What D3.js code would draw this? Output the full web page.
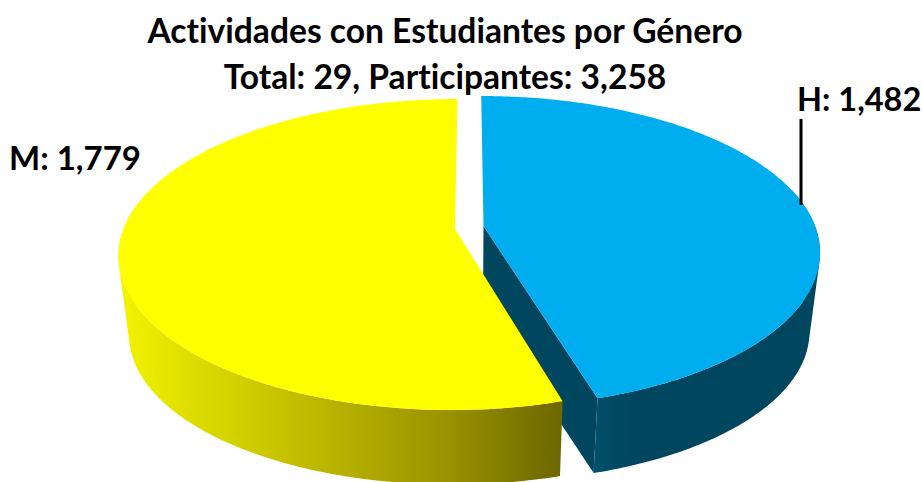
<!DOCTYPE html>
<html><head><meta charset="utf-8">
<script src="https://cdnjs.cloudflare.com/ajax/libs/d3/7.8.5/d3.min.js"></script>
<style>html,body{margin:0;background:#fff}svg{display:block}text{font-family:Lato,"Open Sans",sans-serif;font-weight:700;fill:#000;font-variant-ligatures:none}</style>
</head><body><div id="c"></div>
<script>
const categories = ["H", "M"];
const values = [1482, 1779];
const titleLines = ["Actividades con Estudiantes por Género", "Total: 29, Participantes: 3,258"];
const sliceColors = ["#00AEEF", "#FFFF00"];
const wallColor = "#00465F";

const W = 922, H = 482;
const svg = d3.select("#c").append("svg").attr("width", W).attr("height", H);

const radiusX = 331.5, radiusY = 151.3, persp = 0.164;
const depth = 80, floorScale = 0.97;
const apex = [{x: 483.5, y: 226, off: 16}, {x: 455, y: 229, off: -18}];

const pie = d3.pie().sort(null).value(d => d)(values);

function project(a, angle, t, r = 1) {
  const u = Math.sin(angle) * r, v = -Math.cos(angle) * r;
  const w = 1 - persp * v;
  const s = 1 - (1 - floorScale) * t;
  return [a.x - a.off + s * (radiusX * u + a.off) / w, a.y + depth * t + s * radiusY * v / w];
}
const angles = (a0, a1) => d3.range(0, 241).map(i => d3.interpolateNumber(a0, a1)(i / 240));
const line = d3.line();

const defs = svg.append("defs");
const gBlue = defs.append("linearGradient").attr("id", "wallH").attr("gradientUnits", "userSpaceOnUse")
  .attr("x1", 595).attr("x2", 820).attr("y1", 0).attr("y2", 0);
[[0, "#024F6B"], [0.15, "#00465F"], [1, "#00465F"]].forEach(s => gBlue.append("stop").attr("offset", s[0]).attr("stop-color", s[1]));
const gYel = defs.append("linearGradient").attr("id", "wallM").attr("gradientUnits", "userSpaceOnUse")
  .attr("x1", 118).attr("x2", 558).attr("y1", 0).attr("y2", 0);
[[0, "#F4F400"], [0.1, "#E6E600"], [0.45, "#BDB800"], [0.75, "#999200"], [1, "#6E6800"]].forEach(s => gYel.append("stop").attr("offset", s[0]).attr("stop-color", s[1]));

const wallFill = ["url(#wallH)", "url(#wallM)"];

// One outer-wall quad per rim step, all wound alike so their union fills solid.
function wallPath(a, as) {
  const front = as.filter(t => -Math.cos(t) > -0.25);
  return d3.pairs(front).map(([t0, t1]) => {
    const q = [project(a, t0, 0), project(a, t1, 0), project(a, t1, 1), project(a, t0, 1)];
    if (d3.polygonArea(q) < 0) q.reverse();
    return line(q) + "Z";
  }).join("");
}

pie.forEach((d, i) => {
  const a = apex[i];
  const as = angles(d.startAngle, d.endAngle);
  const top = as.map(t => project(a, t, 0));
  if (i === 0) {
    const end = d.endAngle;
    svg.append("path").attr("fill", wallColor).attr("d", line([
      project(a, end, 0, 0), project(a, end, 0), project(a, end, 1), project(a, end, 1, 0)
    ]) + "Z");
  }
  svg.append("path").attr("fill", wallFill[i]).attr("d", wallPath(a, as));
  svg.append("path").attr("fill", sliceColors[i]).attr("d", line([[a.x, a.y]].concat(top)) + "Z");
});

const title = svg.append("g").attr("text-anchor", "middle").style("font-size", "33.6px");
title.selectAll("text").data(titleLines).join("text")
  .attr("x", 445).attr("y", (d, i) => 43 + i * 46).text(d => d);

const fmt = d3.format(",");
svg.append("line").attr("x1", 801).attr("x2", 801).attr("y1", 119).attr("y2", 205).attr("stroke", "#000").attr("stroke-width", 3);
svg.append("text").attr("x", 797).attr("y", 111).style("font-size", "32.5px").text(`${categories[0]}: ${fmt(values[0])}`);
svg.append("text").attr("x", 9).attr("y", 170).style("font-size", "33px").text(`${categories[1]}: ${fmt(values[1])}`);
</script></body></html>
